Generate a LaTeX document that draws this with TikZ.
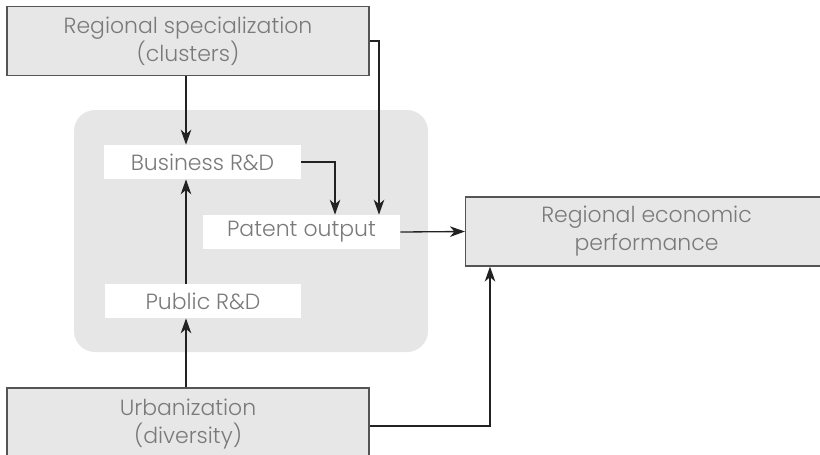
\documentclass[tikz,border=0pt]{standalone}
\usepackage{fontspec}
\setmainfont{Poppins Light}
\usetikzlibrary{arrows.meta}
\definecolor{boxfill}{HTML}{E6E7E6}
\definecolor{boxline}{HTML}{555555}
\definecolor{txt}{HTML}{7A7A7A}
\definecolor{region}{HTML}{E6E6E6}
\definecolor{arr}{HTML}{222222}
\begin{document}
\begin{tikzpicture}[x=0.02cm,y=-0.02cm,
  bigbox/.style={draw=boxline,line width=0.7pt,fill=boxfill,text=txt,align=center,
    minimum width=7.24cm,minimum height=1.38cm,inner sep=0pt,font=\fontsize{12.5}{16}\selectfont},
  whitebox/.style={fill=white,text=txt,minimum width=3.94cm,minimum height=0.68cm,inner sep=0pt,
    font=\fontsize{12.5}{15}\selectfont},
  conn/.style={draw=arr,line width=0.75pt},
  arrow/.style={conn,-{Stealth[length=8.5pt,width=6pt,inset=2.5pt]}}]
\useasboundingbox (0,0) rectangle (820,454);
\clip (0,0) rectangle (820,454);
\fill[region,rounded corners=0.42cm] (74,110) rectangle (428,352);
\node[bigbox] (spec) at (188,41) {Regional specialization\\(clusters)};
\node[bigbox] (econ) at (646.5,231.5) {Regional economic\\performance};
\node[bigbox,minimum height=1.44cm] (urban) at (188,424) {Urbanization\\(diversity)};
\node[whitebox] (biz) at (202.5,162) {Business R\&D};
\node[whitebox] (patent) at (301.5,232) {Patent output};
\node[whitebox] (public) at (203,301) {Public R\&D};
\coordinate (xl) at (186,0);
\coordinate (xr) at (379,0);
\coordinate (xm) at (335,0);
\coordinate (xu) at (490,0);
\draw[arrow] (spec.south -| xl) -- (biz.north -| xl);
\draw[arrow] (spec.east) -- (spec.east -| xr) -- (patent.north -| xr);
\draw[arrow] (biz.east) -- (biz.east -| xm) -- (patent.north -| xm);
\draw[arrow] (public.north -| xl) -- (biz.south -| xl);
\draw[arrow] (urban.north -| xl) -- (public.south -| xl);
\draw[arrow] (patent.east) -- (econ.west);
\draw[arrow] ([yshift=-0.04cm]urban.east) -- ([yshift=-0.04cm]urban.east -| xu) -- (econ.south -| xu);
\end{tikzpicture}
\end{document}
